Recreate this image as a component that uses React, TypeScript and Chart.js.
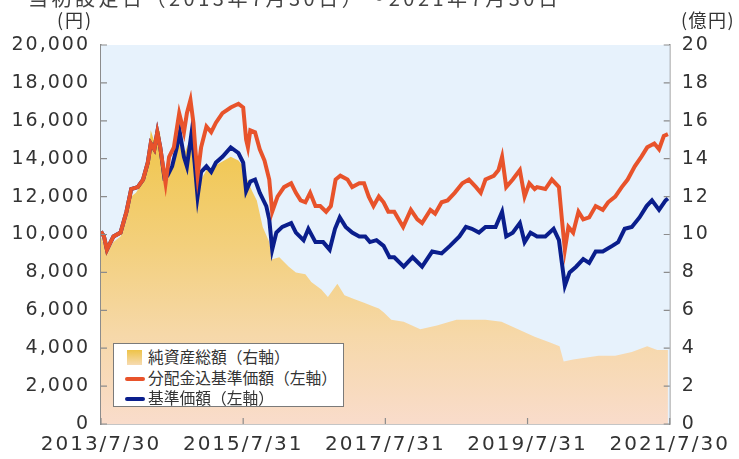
import React, { useEffect, useRef } from "react";
import { Chart, registerables } from "chart.js";

Chart.register(...registerables);

// ---- Data (x = months since 2013/7/30) ----
const X_TICK_MONTHS = [0, 24, 48, 72, 96];
const X_TICK_LABELS = ["2013/7/30", "2015/7/31", "2017/7/31", "2019/7/31", "2021/7/30"];

const SERIES_LABELS = ["純資産総額（右軸）", "分配金込基準価額（左軸）", "基準価額（左軸）"];

// 分配金込基準価額 (円)
const totalReturnMonths = [
  0, 0.5, 1.0, 2.1, 3.3, 4.3, 5.1, 6.2, 7.1, 7.9,
  8.4, 9.0, 9.5, 10.0, 10.7, 10.9, 11.5, 12.3, 13.2, 14.0,
  14.5, 15.1, 15.6, 15.9, 16.3, 16.9, 17.8, 18.6, 19.4, 20.5,
  21.9, 23.2, 24.0, 24.5, 24.8, 25.2, 26.0, 26.8, 27.6, 28.4,
  28.9, 29.8, 30.9, 32.1, 32.9, 33.7, 34.5, 35.3, 36.2, 37.0,
  38.0, 38.8, 39.6, 40.4, 41.6, 42.4, 43.6, 44.4, 45.2, 46.0,
  46.9, 47.7, 48.5, 49.5, 51.0, 52.3, 53.4, 54.2, 55.6, 56.4,
  57.5, 58.5, 59.7, 61.0, 62.1, 63.3, 64.1, 64.9, 66.3, 67.1,
  67.7, 68.4, 69.5, 70.7, 71.5, 72.3, 73.2, 73.6, 75.0, 76.1,
  77.3, 77.8, 78.3, 78.9, 79.7, 80.6, 81.4, 82.4, 83.5, 84.7,
  85.6, 86.8, 87.9, 88.9, 90.1, 91.2, 92.2, 93.4, 94.2, 95.0,
  95.7,
];
const totalReturnValues = [
  10160, 9900, 9200, 9900, 10100, 11200, 12400, 12500, 12900, 13800,
  14800, 14500, 15400, 14600, 13100, 12700, 14100, 14600, 16400, 15400,
  16400, 17100, 15900, 14600, 13100, 14600, 15700, 15400, 15900, 16400,
  16700, 16900, 16700, 15000, 14600, 15500, 15400, 14500, 13900, 12900,
  11200, 12000, 12500, 12700, 12200, 11800, 11700, 12200, 11500, 11500,
  11200, 11500, 12900, 13100, 12900, 12500, 12700, 12700, 12000, 11500,
  12000, 11700, 11200, 11200, 10400, 11300, 10800, 10600, 11300, 11100,
  11700, 11800, 12200, 12700, 12900, 12500, 12200, 12900, 13100, 13400,
  14100, 12500, 12900, 13400, 12000, 12700, 12400, 12500, 12400, 12900,
  12500, 10800, 9200, 10400, 10100, 11200, 10800, 10900, 11500, 11300,
  11700, 12000, 12500, 12900, 13600, 14100, 14600, 14800, 14500, 15200,
  15300,
];

// 基準価額 (円)
const navMonths = [
  0, 0.5, 1.0, 2.1, 3.3, 4.3, 5.1, 6.2, 7.1, 7.9,
  8.4, 9.0, 9.5, 10.0, 10.7, 11.2, 12.0, 12.8, 13.3, 14.0,
  14.5, 15.3, 15.8, 16.3, 16.9, 17.8, 18.6, 19.4, 20.5, 21.9,
  23.2, 24.0, 24.5, 25.2, 26.0, 26.8, 27.9, 28.4, 28.9, 29.6,
  30.6, 32.1, 32.9, 34.2, 35.0, 36.2, 37.5, 38.6, 39.5, 40.3,
  41.3, 42.4, 43.6, 44.6, 45.4, 46.5, 47.7, 48.7, 49.5, 51.1,
  52.6, 54.2, 55.9, 57.5, 58.9, 60.5, 61.6, 62.6, 63.8, 64.9,
  66.6, 67.7, 68.4, 69.5, 70.7, 71.5, 72.5, 73.6, 75.0, 76.4,
  77.3, 77.8, 78.3, 79.1, 80.2, 81.4, 82.4, 83.5, 84.7, 86.3,
  87.3, 88.4, 89.6, 90.9, 92.1, 93.0, 94.2, 95.3, 95.7,
];
const navValues = [
  10160, 9900, 9200, 9900, 10100, 11200, 12400, 12500, 12900, 13800,
  14800, 14500, 15400, 14600, 13000, 13100, 13600, 14600, 15400, 14100,
  13600, 15400, 13800, 12000, 13300, 13600, 13300, 13800, 14100, 14600,
  14300, 13800, 12300, 12800, 12900, 12200, 11500, 10800, 9200, 10100,
  10400, 10600, 10100, 9700, 10300, 9600, 9600, 9200, 10300, 10900,
  10400, 10100, 9900, 9900, 9600, 9700, 9400, 8800, 8800, 8300,
  8800, 8300, 9100, 9000, 9400, 9900, 10400, 10300, 10100, 10400,
  10400, 11200, 9900, 10100, 10600, 9600, 10100, 9900, 9900, 10300,
  9700, 8500, 7300, 8000, 8300, 8700, 8500, 9100, 9100, 9400,
  9600, 10300, 10400, 10900, 11500, 11800, 11300, 11800, 11900,
];

// 純資産総額 (億円)
const assetsMonths = [
  0, 1.0, 2.1, 3.3, 4.3, 5.1, 5.9, 6.7, 7.6, 8.1,
  8.4, 8.9, 9.2, 9.9, 10.4, 10.9, 11.5, 12.5, 13.3, 14.1,
  15.0, 15.6, 16.1, 16.9, 17.8, 19.1, 20.2, 21.9, 23.2, 24.0,
  24.7, 25.5, 26.3, 27.3, 28.4, 28.9, 30.1, 31.7, 32.9, 34.5,
  35.5, 37.2, 38.3, 39.9, 41.1, 42.7, 44.4, 46.0, 46.9, 47.7,
  49.0, 51.1, 53.9, 56.7, 60.0, 62.1, 64.9, 67.6, 70.4, 73.2,
  75.8, 77.4, 78.1, 79.7, 84.0, 86.8, 89.6, 92.2, 93.9, 95.7,
];
const assetsValues = [
  9.9, 9.0, 9.6, 9.9, 10.8, 12.0, 12.2, 12.6, 13.4, 14.4,
  15.5, 15.0, 15.2, 15.5, 14.1, 12.5, 13.1, 14.1, 14.8, 14.3,
  15.0, 14.1, 12.9, 12.9, 13.4, 13.6, 13.8, 14.1, 13.9, 13.6,
  12.9, 12.3, 11.8, 10.4, 9.6, 8.7, 8.8, 8.3, 8.0, 7.9,
  7.5, 7.1, 6.7, 7.4, 6.8, 6.6, 6.4, 6.2, 6.1, 5.9,
  5.5, 5.4, 5.0, 5.2, 5.5, 5.5, 5.5, 5.4, 5.0, 4.6,
  4.3, 4.1, 3.3, 3.4, 3.6, 3.6, 3.8, 4.1, 3.9, 3.9,
];

const W = 739;
const H = 459;
const TEXT = "#333333";
const AXIS = "#8c8c8c";

const toPoints = (xs: number[], ys: number[]) => xs.map((x, i) => ({ x, y: ys[i] }));
const fmt = (v: number) => String(v).replace(/\B(?=(\d{3})+(?!\d))/g, ",");

const spacingPlugin = {
  id: "spacing",
  beforeLayout(chart: any) {
    chart.ctx.letterSpacing = "2px";
  },
  beforeDraw(chart: any) {
    chart.ctx.letterSpacing = "2px";
  },
};

const bgPlugin = {
  id: "plotBg",
  beforeDatasetsDraw(chart: any) {
    const { ctx, chartArea: a } = chart;
    ctx.save();
    ctx.fillStyle = "#e7f2fc";
    ctx.fillRect(a.left, a.top, a.right - a.left, a.bottom - a.top);
    ctx.restore();
  },
};

const innerTicksPlugin = {
  id: "innerTicks",
  afterDraw(chart: any) {
    const { ctx, chartArea: a, scales } = chart;
    ctx.save();
    ctx.strokeStyle = AXIS;
    ctx.lineWidth = 1.2;
    const len = 6;
    ctx.beginPath();
    scales.y.ticks.forEach((t: any) => {
      const y = scales.y.getPixelForValue(t.value);
      ctx.moveTo(a.left, y);
      ctx.lineTo(a.left + len, y);
    });
    scales.y2.ticks.forEach((t: any) => {
      const y = scales.y2.getPixelForValue(t.value);
      ctx.moveTo(a.right, y);
      ctx.lineTo(a.right - len, y);
    });
    scales.x.ticks.forEach((t: any) => {
      const x = scales.x.getPixelForValue(t.value);
      ctx.moveTo(x, a.bottom);
      ctx.lineTo(x, a.bottom - len);
    });
    ctx.stroke();
    ctx.restore();
  },
};

function areaGradient(context: any) {
  const chart = context.chart;
  const a = chart.chartArea;
  if (!a) return "#f2cc66";
  const g = chart.ctx.createLinearGradient(0, a.top, 0, a.bottom);
  g.addColorStop(0, "#eec13a");
  g.addColorStop(0.2, "#f0c546");
  g.addColorStop(0.54, "#f3d07e");
  g.addColorStop(0.76, "#f6d8a8");
  g.addColorStop(1, "#f9dccb");
  return g;
}

export default function App() {
  const ref = useRef<HTMLCanvasElement | null>(null);

  useEffect(() => {
    if (!ref.current) return;
    const chart = new Chart(ref.current, {
      type: "line",
      data: {
        datasets: [
          {
            label: SERIES_LABELS[0],
            data: toPoints(assetsMonths, assetsValues),
            yAxisID: "y2",
            fill: "origin",
            backgroundColor: areaGradient,
            borderWidth: 0,
            pointRadius: 0,
            order: 3,
          },
          {
            label: SERIES_LABELS[1],
            data: toPoints(totalReturnMonths, totalReturnValues),
            yAxisID: "y",
            borderColor: "#e8532b",
            borderWidth: 4,
            pointRadius: 0,
            fill: false,
            order: 1,
          },
          {
            label: SERIES_LABELS[2],
            data: toPoints(navMonths, navValues),
            yAxisID: "y",
            borderColor: "#0a1e8c",
            borderWidth: 4,
            pointRadius: 0,
            fill: false,
            order: 2,
          },
        ],
      },
      options: {
        responsive: false,
        animation: false,
        layout: { padding: { top: 45, left: 0, right: 0, bottom: 0 }, autoPadding: false } as any,
        plugins: { legend: { display: false }, tooltip: { enabled: false } },
        scales: {
          x: {
            type: "linear",
            min: 0,
            max: 96,
            afterBuildTicks: (s: any) => {
              s.ticks = X_TICK_MONTHS.map((v) => ({ value: v }));
            },
            afterFit: (s: any) => {
              s.height = 35;
            },
            ticks: {
              autoSkip: false,
              maxRotation: 0,
              padding: 9,
              color: TEXT,
              font: { family: "DejaVu Sans", size: 20 },
              callback: (v: any) => {
                const i = X_TICK_MONTHS.indexOf(Number(v));
                return i >= 0 ? X_TICK_LABELS[i] : "";
              },
            },
            grid: { display: true, drawOnChartArea: false, drawTicks: false },
            border: { display: true, color: AXIS, width: 1.5 },
          },
          y: {
            position: "left",
            min: 0,
            max: 20000,
            afterFit: (s: any) => {
              s.width = 101;
            },
            ticks: {
              stepSize: 2000,
              padding: 11,
              color: TEXT,
              font: { family: "DejaVu Sans", size: 19 },
              callback: (v: any) => fmt(Number(v)),
            },
            grid: { display: true, drawOnChartArea: false, drawTicks: false },
            border: { display: true, color: AXIS, width: 1.5 },
          },
          y2: {
            position: "right",
            min: 0,
            max: 20,
            afterFit: (s: any) => {
              s.width = 56;
            },
            ticks: {
              stepSize: 2,
              padding: 12,
              color: TEXT,
              font: { family: "DejaVu Sans", size: 19 },
            },
            grid: { display: true, drawOnChartArea: false, drawTicks: false },
            border: { display: true, color: AXIS, width: 1.5 },
          },
        },
      },
      plugins: [spacingPlugin, bgPlugin, innerTicksPlugin],
    });
    return () => chart.destroy();
  }, []);

  const cjk = '"Noto Sans CJK JP", "Noto Sans", sans-serif';

  return (
    <div
      style={{
        position: "fixed",
        left: 0,
        top: 0,
        width: W,
        height: H,
        overflow: "hidden",
        background: "#ffffff",
      }}
    >
      <canvas ref={ref} width={W} height={H} style={{ position: "absolute", left: 0, top: 0, width: W, height: H }} />
      <div
        style={{
          position: "absolute",
          left: 28,
          top: -13,
          fontFamily: cjk,
          fontSize: 20,
          letterSpacing: "3.5px",
          color: "#444",
          whiteSpace: "nowrap",
          lineHeight: "22px",
        }}
      >
        当初設定日（2013年7月30日）～2021年7月30日
      </div>
      <div
        style={{
          position: "absolute",
          left: 57,
          top: 8,
          fontFamily: cjk,
          fontSize: 18,
          letterSpacing: "2px",
          color: TEXT,
          whiteSpace: "nowrap",
          lineHeight: "22px",
        }}
      >
        (円)
      </div>
      <div
        style={{
          position: "absolute",
          left: 681,
          top: 8,
          fontFamily: cjk,
          fontSize: 18,
          letterSpacing: "1.5px",
          color: TEXT,
          whiteSpace: "nowrap",
          lineHeight: "22px",
        }}
      >
        (億円)
      </div>
      <div
        style={{
          position: "absolute",
          left: 113,
          top: 343,
          width: 231,
          height: 64,
          boxSizing: "border-box",
          border: "1px solid #7a7a7a",
          background: "#ffffff",
          fontFamily: cjk,
          fontSize: 15.75,
          color: TEXT,
          whiteSpace: "nowrap",
        }}
      >
        {SERIES_LABELS.map((label, i) => (
          <div
            key={label}
            style={{ position: "absolute", left: 0, top: 3 + i * 20.5, height: 20, width: 229, lineHeight: "20px" }}
          >
            {i === 0 ? (
              <span
                style={{
                  position: "absolute",
                  left: 13,
                  top: 3,
                  width: 15,
                  height: 15,
                  background: "linear-gradient(#eec348, #f6dbb2)",
                }}
              />
            ) : (
              <span
                style={{
                  position: "absolute",
                  left: 11,
                  top: 9,
                  width: 20,
                  height: 4,
                  borderRadius: 2,
                  background: i === 1 ? "#e8532b" : "#0a1e8c",
                }}
              />
            )}
            <span style={{ position: "absolute", left: 34, top: 0 }}>{label}</span>
          </div>
        ))}
      </div>
    </div>
  );
}
